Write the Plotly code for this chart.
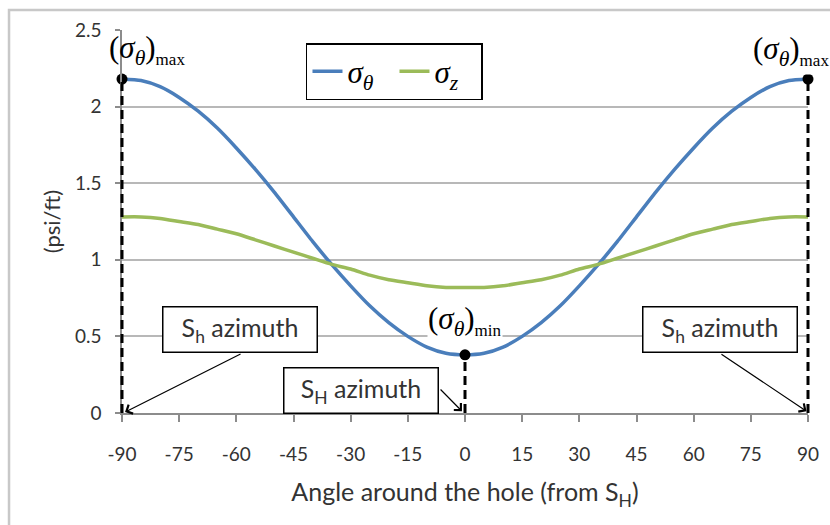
import plotly.graph_objects as go

# Angle around the borehole wall, measured from the S_H azimuth (degrees)
angles = list(range(-90, 91, 5))

# Hoop stress gradient (psi/ft)
sigma_theta = [2.18, 2.17, 2.13, 2.06, 1.97, 1.86, 1.73, 1.59, 1.44, 1.28,
               1.12, 0.97, 0.83, 0.70, 0.59, 0.50, 0.43, 0.39, 0.38,
               0.39, 0.43, 0.50, 0.59, 0.70, 0.83, 0.97, 1.12, 1.28,
               1.44, 1.59, 1.73, 1.86, 1.97, 2.06, 2.13, 2.17, 2.18]

# Axial stress gradient (psi/ft)
sigma_z = [1.28, 1.28, 1.27, 1.25, 1.23, 1.20, 1.17, 1.13, 1.09, 1.05,
           1.01, 0.97, 0.94, 0.90, 0.87, 0.85, 0.83, 0.82, 0.82,
           0.82, 0.83, 0.85, 0.87, 0.90, 0.94, 0.97, 1.01, 1.05,
           1.09, 1.13, 1.17, 1.20, 1.23, 1.25, 1.27, 1.28, 1.28]

x_ticks = list(range(-90, 91, 15))
y_ticks = [0, 0.5, 1, 1.5, 2, 2.5]
x_range = [-90, 90]
y_range = [0, 2.5]

# Extremes of the hoop stress: max at S_h azimuths, min at S_H azimuth
peak_angles = [-90, 0, 90]
peak_values = [sigma_theta[angles.index(a)] for a in peak_angles]

BLUE = "#4a7ebb"
GREEN = "#9bbb59"
SANS = "Lato, 'Open Sans', sans-serif"
SERIF = "'Liberation Serif', 'DejaVu Serif', serif"
TXT = "#333333"

fig = go.Figure()

fig.add_trace(go.Scatter(
    x=angles, y=sigma_theta, mode="lines",
    line=dict(color=BLUE, width=3.5, shape="spline", smoothing=0.6),
    name="<i>σ</i><sub><i>θ</i></sub>",
))
fig.add_trace(go.Scatter(
    x=angles, y=sigma_z, mode="lines",
    line=dict(color=GREEN, width=3.5, shape="spline", smoothing=0.6),
    name="<i>σ</i><sub><i>z</i></sub>",
))
fig.add_trace(go.Scatter(
    x=peak_angles, y=peak_values, mode="markers",
    marker=dict(color="black", size=11),
    showlegend=False, cliponaxis=False,
))

# dashed drop lines from each extreme down to the angle axis
# (x given as a fraction of the axis span so the edge lines are not clipped)
shapes = []
for a, v in zip(peak_angles, peak_values):
    xf = (a - x_range[0]) / (x_range[1] - x_range[0])
    shapes.append(dict(
        type="line", xref="x domain", yref="y",
        x0=xf, x1=xf, y0=0, y1=v,
        line=dict(color="black", width=3, dash="9px,5px"),
        layer="above",
    ))

# light frame around the whole chart
shapes.append(dict(
    type="rect", xref="paper", yref="paper",
    x0=-0.1647, x1=1.1, y0=-0.4, y1=1.0522,
    line=dict(color="#c8c8c8", width=2.5), fillcolor="rgba(0,0,0,0)",
    layer="below",
))

annotations = []

# stress extreme labels
max_txt = ("(<i>σ</i><sub><i>θ</i></sub>)"
           "<sub><span style='font-size:17px'>max</span></sub>")
min_txt = ("(<i>σ</i><sub><i>θ</i></sub>)"
           "<sub><span style='font-size:17px'>min</span></sub>")
annotations.append(dict(
    x=-0.0204, y=2.37, xref="paper", yref="y", text=max_txt,
    showarrow=False, xanchor="left", yanchor="middle",
    borderpad=0, font=dict(family=SERIF, size=31, color="black"),
))
annotations.append(dict(
    x=74.6, y=2.36, xref="x", yref="y", text=max_txt,
    showarrow=False, xanchor="left", yanchor="middle",
    bgcolor="white", borderpad=3,
    font=dict(family=SERIF, size=31, color="black"),
))
annotations.append(dict(
    x=0, y=0.60, xref="x", yref="y", text=min_txt,
    showarrow=False, xanchor="center", yanchor="middle",
    bgcolor="white", borderpad=0,
    font=dict(family=SERIF, size=31, color="black"),
))

# azimuth call-out boxes
boxes = [(-59.0, 0.545, "S<sub>h</sub> azimuth"),
         (-27.4, 0.150, "S<sub>H</sub> azimuth"),
         (66.8, 0.545, "S<sub>h</sub> azimuth")]
for x, y, txt in boxes:
    annotations.append(dict(
        x=x, y=y, xref="x", yref="y", text=txt, showarrow=False,
        xanchor="center", yanchor="middle",
        width=153, height=44, borderpad=0,
        bgcolor="white", bordercolor="black", borderwidth=1.5,
        font=dict(family=SANS, size=25, color=TXT),
    ))

# call-out arrows: (tail x, tail y, head x, head y)
arrows = [(-58.5, 0.39, -89.2, 0.006),
          (-6.8, 0.163, -0.8, 0.012),
          (66.9, 0.39, 89.6, 0.012)]
for ax, ay, hx, hy in arrows:
    annotations.append(dict(
        x=hx, y=hy, ax=ax, ay=ay, xref="x", yref="y", axref="x", ayref="y",
        text="", showarrow=True, arrowhead=4, arrowsize=1.6,
        arrowwidth=1.2, arrowcolor="black",
    ))

fig.update_layout(
    width=830, height=525,
    margin=dict(l=122, r=22, t=30, b=112),
    paper_bgcolor="white", plot_bgcolor="white",
    showlegend=True,
    legend=dict(
        orientation="h", x=0.2682, xanchor="left", y=0.966, yanchor="top",
        bordercolor="black", borderwidth=1.5, bgcolor="white",
        font=dict(family=SERIF, size=31, color="black"),
        entrywidth=42, entrywidthmode="pixels",
        itemwidth=30, tracegroupgap=0,
    ),
    annotations=annotations,
    shapes=shapes,
)

fig.update_xaxes(
    range=x_range, tickvals=x_ticks, ticktext=[str(t) for t in x_ticks],
    showgrid=False, zeroline=False,
    showline=True, linecolor="#8c8c8c", linewidth=2,
    ticks="outside", ticklen=7, tickwidth=1.5, tickcolor="#8c8c8c",
    ticklabelstandoff=16,
    tickfont=dict(family=SANS, size=19, color=TXT),
    title=dict(text="Angle around the hole (from S<sub>H</sub>)",
               font=dict(family=SANS, size=25, color=TXT), standoff=20),
)
fig.update_yaxes(
    range=y_range, tickvals=y_ticks,
    ticktext=["0", "0.5", "1", "1.5", "2", "2.5"],
    showgrid=True, gridcolor="#b8b8b8", gridwidth=1.5, zeroline=False,
    showline=True, linecolor="#8c8c8c", linewidth=1.5,
    ticks="outside", ticklen=5, tickwidth=1.5, tickcolor="#8c8c8c",
    ticklabelstandoff=10,
    tickfont=dict(family=SANS, size=19, color=TXT),
    title=dict(text="(psi/ft)", font=dict(family=SANS, size=22, color=TXT),
               standoff=8),
)

fig.write_html("out.html")
